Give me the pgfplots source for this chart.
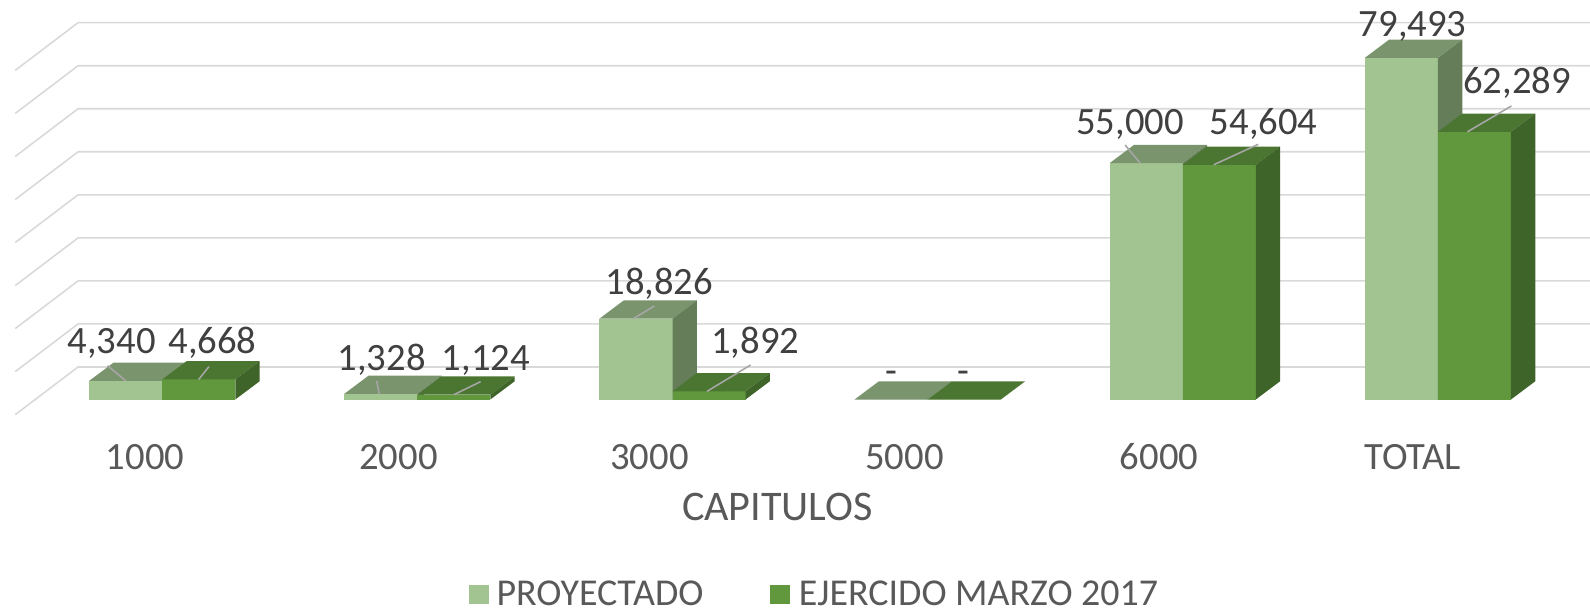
\documentclass[border=0pt]{standalone}
\usepackage{fontspec}
\setmainfont{Carlito}
\usepackage{pgfplots}
\usepackage{pgfplotstable}
\usepackage{xfp}
\pgfplotsset{compat=1.18}

\definecolor{lightfront}{HTML}{A2C490}
\definecolor{lighttop}{HTML}{7A946E}
\definecolor{lightside}{HTML}{657E59}
\definecolor{darkfront}{HTML}{62983D}
\definecolor{darktop}{HTML}{4B7631}
\definecolor{darkside}{HTML}{3F6429}
\definecolor{gridc}{HTML}{D9D9D9}
\definecolor{labc}{HTML}{404040}
\definecolor{tickc}{HTML}{595959}
\definecolor{leadc}{HTML}{A6A6A6}

% category index, PROYECTADO, EJERCIDO MARZO 2017
\pgfplotstableread{
idx light dark
0 4340 4668
1 1328 1124
2 18826 1892
3 0 0
4 55000 54604
5 79493 62289
}\datatable

\newcommand{\bw}{0.2862}
\newcommand{\ddx}{0.0954}
\newcommand{\ddy}{4246}

% #1 left x, #2 right x, #3 value, #4 front, #5 top, #6 side
\newcommand{\barbox}[6]{%
 \edef\temp{%
 \noexpand\addplot[fill=#4,draw=none,forget plot] coordinates {(\fpeval{#1},0) (\fpeval{#2},0) (\fpeval{#2},#3) (\fpeval{#1},#3)} -- cycle;%
 \noexpand\addplot[fill=#5,draw=none,forget plot] coordinates {(\fpeval{#1},#3) (\fpeval{#2},#3) (\fpeval{#2+\ddx},\fpeval{#3+\ddy}) (\fpeval{#1+\ddx},\fpeval{#3+\ddy})} -- cycle;%
 \noexpand\addplot[fill=#6,draw=none,forget plot] coordinates {(\fpeval{#2},0) (\fpeval{#2+\ddx},\ddy) (\fpeval{#2+\ddx},\fpeval{#3+\ddy}) (\fpeval{#2},#3)} -- cycle;%
 }\temp}

\begin{document}
\begin{tikzpicture}
\begin{axis}[
  width=15.9cm, height=4.2cm, scale only axis,
  xmin=-0.6359, xmax=5.5962, ymin=-4765, ymax=92945,
  axis line style={draw=none}, major tick length=0pt, ytick=\empty,
  xtick={-0.0676,0.926,1.910,2.909,3.907,4.901},
  xticklabels={1000,2000,3000,5000,6000,TOTAL},
  xticklabel style={anchor=base, yshift=-5.0mm, font=\fontsize{11}{13}\selectfont, text=tickc, inner sep=0pt},
  xlabel={CAPITULOS},
  xlabel style={at={(axis description cs:0.489,0)}, anchor=base, yshift=-10.1mm, font=\fontsize{12}{14}\selectfont, text=tickc, inner sep=0pt},
  clip=false,
  legend columns=2,
  legend style={draw=none, fill=none, at={(axis description cs:0.2943,0)}, anchor=north west, yshift=-16.0mm,
    font=\fontsize{10.8}{13}\selectfont, text=tickc, inner sep=0pt, nodes={inner sep=0pt},
    /tikz/column 1/.style={column sep=0.8mm},
    /tikz/column 2/.style={column sep=6.7mm},
    /tikz/column 3/.style={column sep=0.9mm}},
  legend cell align=left,
]
% perspective gridlines (back wall + side wall)
\pgfplotsforeachungrouped \k in {0,...,8}{%
  \edef\temp{\noexpand\addplot[gridc, line width=0.45pt, forget plot] coordinates {(-0.5763,\fpeval{7572+10012*\k-11100}) (-0.3299,\fpeval{7572+10012*\k}) (5.5962,\fpeval{7572+10012*\k})};}\temp
}
% 3D bars
\pgfplotsforeachungrouped \i in {0,...,5}{%
  \pgfplotstablegetelem{\i}{light}\of\datatable \let\vl\pgfplotsretval
  \pgfplotstablegetelem{\i}{dark}\of\datatable \let\vd\pgfplotsretval
  \barbox{\i-\bw}{\i}{\vl}{lightfront}{lighttop}{lightside}%
  \barbox{\i}{\i+\bw}{\vd}{darkfront}{darktop}{darkside}%
}
% leader lines
\addplot[leadc, line width=0.45pt, forget plot] coordinates {(-0.214,7879) (-0.143,4340)};
\addplot[leadc, line width=0.45pt, forget plot] coordinates {(0.183,7643) (0.143,4668)};
\addplot[leadc, line width=0.45pt, forget plot] coordinates {(0.841,4317) (0.850,1328)};
\addplot[leadc, line width=0.45pt, forget plot] coordinates {(1.248,4152) (1.143,1124)};
\addplot[leadc, line width=0.45pt, forget plot] coordinates {(1.929,21750) (1.847,18826)};
\addplot[leadc, line width=0.45pt, forget plot] coordinates {(2.306,8021) (2.135,1892)};
\addplot[leadc, line width=0.45pt, forget plot] coordinates {(3.774,59211) (3.833,55000)};
\addplot[leadc, line width=0.45pt, forget plot] coordinates {(4.296,59376) (4.121,54604)};
\addplot[leadc, line width=0.45pt, forget plot] coordinates {(5.288,68293) (5.116,62289)};
% data labels
\begin{scope}[every node/.style={anchor=base, inner sep=0pt, text=labc, font=\fontsize{11}{13}\selectfont}]
\node at (axis cs:-0.198,10757) {4,340};
\node at (axis cs:0.197,10757) {4,668};
\node at (axis cs:0.860,6865) {1,328};
\node at (axis cs:1.268,6865) {1,124};
\node at (axis cs:1.948,24463) {18,826};
\node at (axis cs:2.324,10592) {1,892};
\node at (axis cs:2.859,3819) {-};
\node at (axis cs:3.141,3819) {-};
\node at (axis cs:3.793,61711) {55,000};
\node at (axis cs:4.317,61711) {54,604};
\node at (axis cs:4.901,84405) {79,493};
\node at (axis cs:5.310,71242) {62,289};
\end{scope}
\addlegendimage{legend image code/.code={\fill[lightfront] (0mm,-0.8mm) rectangle (1.85mm,0.96mm);}}
\addlegendentry{PROYECTADO}
\addlegendimage{legend image code/.code={\fill[darkfront] (0mm,-0.8mm) rectangle (1.8mm,0.96mm);}}
\addlegendentry{EJERCIDO MARZO 2017}
\coordinate (TL) at (axis description cs:0,1);
\coordinate (BR) at (axis description cs:1,0);
\end{axis}
\pgfresetboundingbox
\path[use as bounding box] (TL) rectangle ([yshift=-19mm]BR);
\end{tikzpicture}
\end{document}
